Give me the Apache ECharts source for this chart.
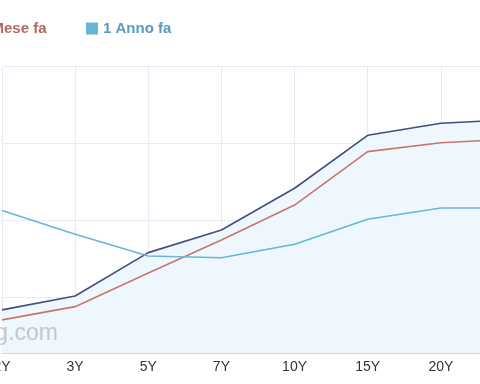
<!DOCTYPE html>
<html>
<head>
<meta charset="utf-8">
<script src="https://cdn.jsdelivr.net/npm/echarts@6/dist/echarts.min.js"></script>
<style>
html,body{margin:0;padding:0;width:480px;height:384px;overflow:hidden;background:#fff;position:relative;}
#c{position:absolute;left:-100px;top:0;width:700px;height:384px;}
</style>
</head>
<body>
<div id="c"></div>
<script>
var categories = ['2Y', '3Y', '5Y', '7Y', '10Y', '15Y', '20Y', '30Y'];
var attuale   = [2.916, 3.006, 3.288, 3.435, 3.706, 4.050, 4.128, 4.153];
var meseFa    = [2.851, 2.937, 3.156, 3.370, 3.597, 3.944, 4.002, 4.026];
var annoFa    = [3.562, 3.407, 3.266, 3.255, 3.342, 3.505, 3.578, 3.578];
var yMin = 2.636, yMax = 4.5;

var chart = echarts.init(document.getElementById('c'), null, {renderer: 'canvas'});
var font = '"Liberation Sans", Arial, sans-serif';
chart.setOption({
  animation: false,
  backgroundColor: '#ffffff',
  grid: {left: 102, right: 86, top: 66, bottom: 31, containLabel: false},
  legend: [
    {data: [{name: '1 Mese fa', textStyle: {color: '#b5665c'}}], icon: 'rect', itemWidth: 12, itemHeight: 12,
     left: 57, top: 16, textStyle: {fontWeight: 'bold', fontSize: 15, fontFamily: font}},
    {data: [{name: '1 Anno fa', textStyle: {color: '#5a9bbf'}}], icon: 'rect', itemWidth: 12, itemHeight: 12,
     left: 181, top: 16, textStyle: {fontWeight: 'bold', fontSize: 15, fontFamily: font}}
  ],
  xAxis: {
    type: 'category', data: categories, boundaryGap: false,
    axisLine: {lineStyle: {color: '#ccd6eb', width: 1}},
    axisTick: {show: false},
    axisLabel: {color: '#333333', fontSize: 14, fontFamily: font, margin: 7},
    splitLine: {show: true, lineStyle: {color: '#e6ebf5', width: 1}}
  },
  yAxis: {
    type: 'value', min: yMin, max: yMax, splitNumber: 4,
    axisLabel: {show: false}, axisLine: {show: false}, axisTick: {show: false},
    splitLine: {show: true, lineStyle: {color: '#e6ebf5', width: 1}}
  },
  graphic: [{
    type: 'text', z: 20, x: 158, y: 334,
    style: {text: 'investing.com', font: '23px "Liberation Sans", Arial, sans-serif', fill: 'rgba(140,140,140,0.45)', align: 'right', verticalAlign: 'middle'}
  }],
  series: [
    {name: 'Attuale', type: 'line', data: attuale, symbol: 'none', z: 3,
     lineStyle: {color: '#434e84', width: 1.6}, itemStyle: {color: '#434e84'},
     areaStyle: {color: '#eef7fe', opacity: 1, origin: 'start'}},
    {name: '1 Mese fa', type: 'line', data: meseFa, symbol: 'none', z: 4,
     lineStyle: {color: '#c8766c', width: 1.6}, itemStyle: {color: '#c8766c'}},
    {name: '1 Anno fa', type: 'line', data: annoFa, symbol: 'none', z: 5,
     lineStyle: {color: '#6ab4da', width: 1.6}, itemStyle: {color: '#6ab4da'}}
  ]
});
</script>
</body>
</html>
